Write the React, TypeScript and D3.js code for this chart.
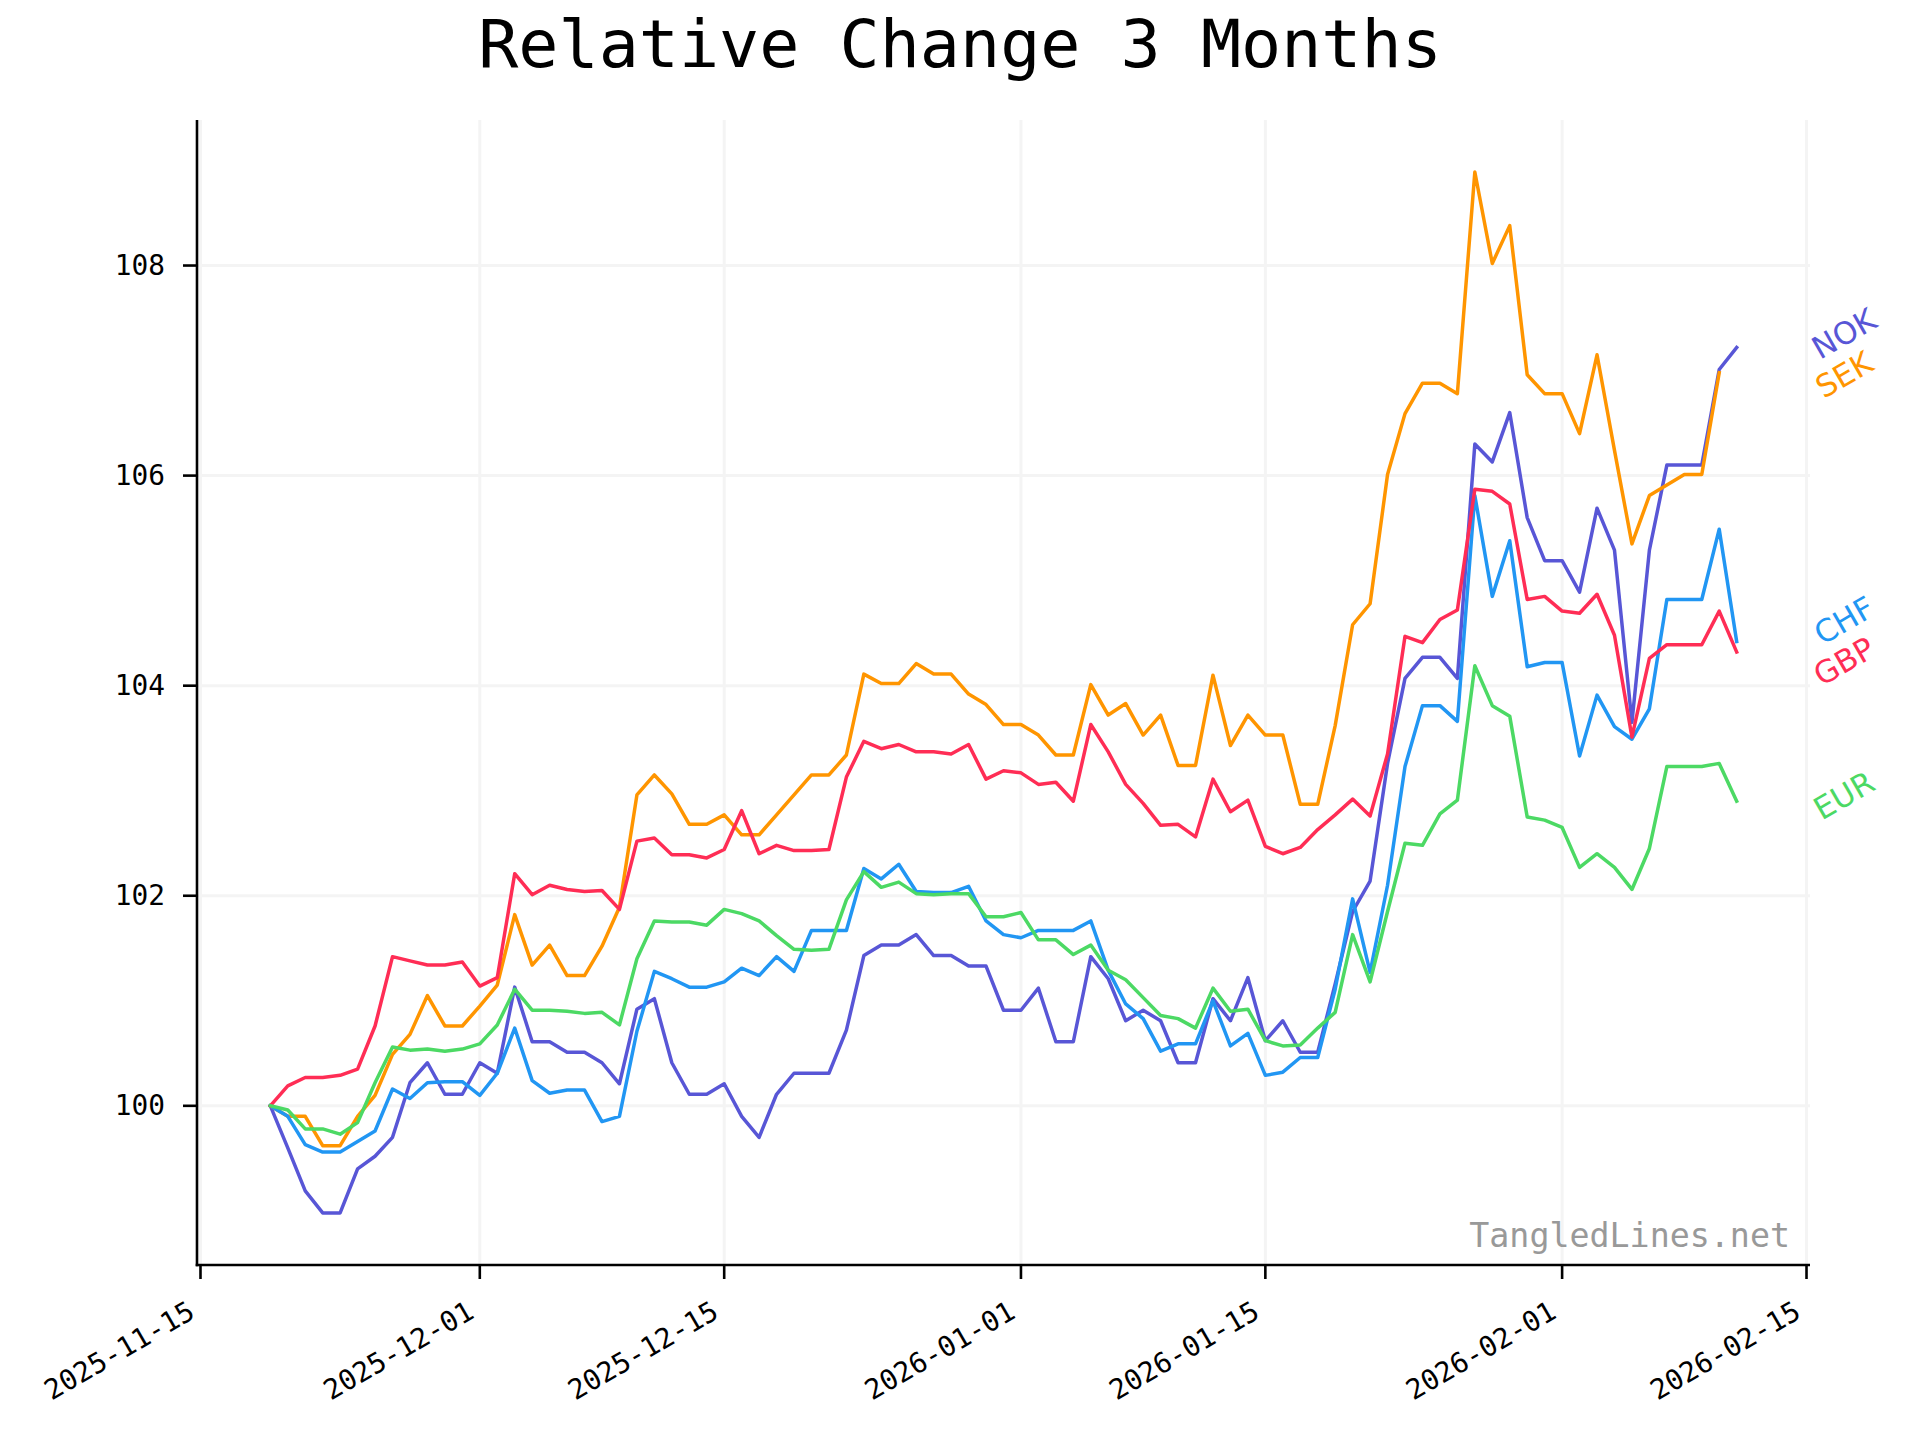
import * as d3 from "d3";
import React from "react";

// daily closes relative to 2025-11-19 (=100)
const startDay = "2025-11-19";

const nok = [
  100.0, 99.6, 99.19, 98.98, 98.98, 99.4, 99.52, 99.7, 100.22, 100.41, 100.11, 100.11, 100.41, 100.31,
  101.13, 100.61, 100.61, 100.51, 100.51, 100.41, 100.21, 100.92, 101.02, 100.41, 100.11, 100.11, 100.21, 99.9,
  99.7, 100.11, 100.31, 100.31, 100.31, 100.72, 101.43, 101.53, 101.53, 101.63, 101.43, 101.43, 101.33, 101.33,
  100.91, 100.91, 101.12, 100.61, 100.61, 101.42, 101.21, 100.81, 100.91, 100.81, 100.41, 100.41, 101.02, 100.81,
  101.22, 100.62, 100.81, 100.51, 100.51, 101.16, 101.85, 102.14, 103.26, 104.07, 104.27, 104.27, 104.07, 106.3,
  106.13, 106.6, 105.6, 105.19, 105.19, 104.89, 105.69, 105.29, 103.65, 105.29, 106.1, 106.1, 106.1, 107.01, 107.22,
];

const sek = [
  100.0, 99.9, 99.9, 99.62, 99.62, 99.9, 100.1, 100.49, 100.68, 101.05, 100.76, 100.76, 100.95, 101.15,
  101.82, 101.34, 101.53, 101.24, 101.24, 101.52, 101.89, 102.96, 103.15, 102.97, 102.68, 102.68, 102.77, 102.58,
  102.58, 102.77, 102.96, 103.15, 103.15, 103.34, 104.11, 104.02, 104.02, 104.21, 104.11, 104.11, 103.92, 103.82,
  103.63, 103.63, 103.53, 103.34, 103.34, 104.01, 103.72, 103.83, 103.53, 103.72, 103.24, 103.24, 104.1, 103.43,
  103.72, 103.53, 103.53, 102.87, 102.87, 103.62, 104.58, 104.78, 106.01, 106.59, 106.88, 106.88, 106.78, 108.89,
  108.02, 108.38, 106.96, 106.78, 106.78, 106.4, 107.15, 106.24, 105.35, 105.81, 105.91, 106.01, 106.01, 106.98,
];

const chf = [
  100.0, 99.9, 99.63, 99.56, 99.56, 99.66, 99.76, 100.16, 100.07, 100.22, 100.23, 100.23, 100.1, 100.31,
  100.74, 100.24, 100.12, 100.15, 100.15, 99.85, 99.9, 100.71, 101.28, 101.21, 101.13, 101.13, 101.18, 101.31,
  101.24, 101.42, 101.28, 101.67, 101.67, 101.67, 102.26, 102.16, 102.3, 102.04, 102.03, 102.03, 102.09, 101.76,
  101.63, 101.6, 101.67, 101.67, 101.67, 101.76, 101.29, 100.97, 100.83, 100.52, 100.59, 100.59, 101.0, 100.57,
  100.69, 100.29, 100.32, 100.46, 100.46, 101.11, 101.97, 101.27, 102.1, 103.23, 103.81, 103.81, 103.66, 105.81,
  104.85, 105.38, 104.18, 104.22, 104.22, 103.33, 103.91, 103.61, 103.49, 103.78, 104.82, 104.82, 104.82, 105.49, 104.42,
];

const gbp = [
  100.0, 100.19, 100.27, 100.27, 100.29, 100.35, 100.76, 101.42, 101.38, 101.34, 101.34, 101.37, 101.14, 101.22,
  102.21, 102.01, 102.1, 102.06, 102.04, 102.05, 101.87, 102.52, 102.55, 102.39, 102.39, 102.36, 102.44, 102.81,
  102.4, 102.48, 102.43, 102.43, 102.44, 103.13, 103.47, 103.4, 103.44, 103.37, 103.37, 103.35, 103.44, 103.11,
  103.19, 103.17, 103.06, 103.08, 102.9, 103.63, 103.37, 103.06, 102.88, 102.67, 102.68, 102.56, 103.11, 102.8,
  102.91, 102.47, 102.4, 102.46, 102.63, 102.77, 102.92, 102.76, 103.35, 104.47, 104.41, 104.63, 104.72, 105.87,
  105.85, 105.73, 104.82, 104.85, 104.71, 104.69, 104.87, 104.48, 103.51, 104.26, 104.39, 104.39, 104.39, 104.71, 104.32,
];

const eur = [
  100.0, 99.96, 99.78, 99.78, 99.73, 99.84, 100.22, 100.56, 100.53, 100.54, 100.52, 100.54, 100.59, 100.77,
  101.11, 100.91, 100.91, 100.9, 100.88, 100.89, 100.77, 101.4, 101.76, 101.75, 101.75, 101.72, 101.87, 101.83,
  101.76, 101.62, 101.49, 101.48, 101.49, 101.96, 102.23, 102.08, 102.13, 102.02, 102.01, 102.02, 102.02, 101.8,
  101.8, 101.84, 101.58, 101.58, 101.44, 101.53, 101.29, 101.2, 101.03, 100.86, 100.83, 100.74, 101.12, 100.9,
  100.92, 100.62, 100.57, 100.58, 100.74, 100.89, 101.63, 101.18, 101.85, 102.5, 102.48, 102.78, 102.91, 104.19,
  103.81, 103.71, 102.75, 102.72, 102.65, 102.27, 102.4, 102.27, 102.06, 102.45, 103.23, 103.23, 103.23, 103.26, 102.9,
];

const currencies = ["NOK", "SEK", "CHF", "GBP", "EUR"];
const colors = ["#5856d6", "#ff9500", "#2196f3", "#ff2d55", "#4cd964"];
const seriesValues = [nok, sek, chf, gbp, eur];

const xTickLabels = ["2025-11-15", "2025-12-01", "2025-12-15", "2026-01-01", "2026-01-15", "2026-02-01", "2026-02-15"];
const yTicks = [100, 102, 104, 106, 108];

const W = 1920, H = 1440;
const margin = { left: 197, right: 1810, top: 120, bottom: 1265 };
const mono = "'DejaVu Sans Mono', monospace";

const parse = d3.utcParse("%Y-%m-%d");

export default function App() {
  const t0 = parse(startDay) as Date;
  const series = seriesValues.map((vals, k) => ({
    name: currencies[k],
    color: colors[k],
    points: vals.map((v, i) => ({ date: d3.utcDay.offset(t0, i), value: v })),
  }));

  const allPts = series.flatMap(s => s.points);
  const [d0, d1] = d3.extent(allPts, p => +p.date) as [number, number];
  const [v0, v1] = d3.extent(allPts, p => p.value) as [number, number];
  const dpad = (d1 - d0) * 0.05, vpad = (v1 - v0) * 0.05;

  const x = d3.scaleUtc().domain([new Date(d0 - dpad), new Date(d1 + dpad)]).range([margin.left, margin.right]);
  const y = d3.scaleLinear().domain([v0 - vpad, v1 + vpad]).range([margin.bottom, margin.top]);

  const line = d3.line<{ date: Date; value: number }>()
    .x(p => x(p.date))
    .y(p => y(p.value));

  // end labels, pushed apart so they don't overlap
  const labels = series.map(s => ({ name: s.name, color: s.color, cy: y(s.points[s.points.length - 1].value) - 6 }))
    .sort((a, b) => a.cy - b.cy);
  const gap = 41;
  for (let iter = 0; iter < 50; iter++) {
    for (let i = 1; i < labels.length; i++) {
      const d = labels[i].cy - labels[i - 1].cy;
      if (d < gap) {
        const m = (labels[i].cy + labels[i - 1].cy) / 2;
        labels[i - 1].cy = m - gap / 2;
        labels[i].cy = m + gap / 2;
      }
    }
  }

  return (
    <div style={{ position: "absolute", left: 0, top: 0 }}>
      <svg width={W} height={H} style={{ display: "block", background: "#fff" }}>
        <rect width={W} height={H} fill="#fff" />
        <text x={960} y={67} textAnchor="middle" fontFamily={mono} fontSize={66.7} fill="#000">
          Relative Change 3 Months
        </text>

        {/* grid */}
        <g stroke="#f4f4f4" strokeWidth={3}>
          {xTickLabels.map(t => (
            <line key={t} x1={x(parse(t) as Date)} x2={x(parse(t) as Date)} y1={margin.top} y2={margin.bottom} />
          ))}
          {yTicks.map(v => (
            <line key={v} x1={margin.left} x2={margin.right} y1={y(v)} y2={y(v)} />
          ))}
        </g>

        {/* lines */}
        {series.map(s => (
          <path key={s.name} d={line(s.points) || ""} fill="none" stroke={s.color} strokeWidth={3.5}
            strokeLinejoin="round" strokeLinecap="square" />
        ))}

        {/* axes */}
        <g stroke="#000" strokeWidth={2.6}>
          <line x1={margin.left} x2={margin.left} y1={margin.top} y2={margin.bottom + 1.3} />
          <line x1={margin.left - 1.3} x2={margin.right} y1={margin.bottom} y2={margin.bottom} />
          {yTicks.map(v => (
            <line key={v} x1={margin.left - 14} x2={margin.left} y1={y(v)} y2={y(v)} />
          ))}
          {xTickLabels.map(t => (
            <line key={t} x1={x(parse(t) as Date)} x2={x(parse(t) as Date)} y1={margin.bottom} y2={margin.bottom + 14} />
          ))}
        </g>
        <g fontFamily={mono} fontSize={27.8} fill="#000">
          {yTicks.map(v => (
            <text key={v} x={margin.left - 32} y={y(v)} textAnchor="end" dominantBaseline="central">{v}</text>
          ))}
          {xTickLabels.map(t => (
            <text key={t} textAnchor="end"
              transform={`translate(${x(parse(t) as Date) - 4},${margin.bottom + 52}) rotate(-30)`}>{t}</text>
          ))}
        </g>

        {/* end labels */}
        {labels.map(l => (
          <text key={l.name} fill={l.color} fontFamily="'DejaVu Sans', sans-serif" fontSize={31}
            textAnchor="middle" dominantBaseline="central"
            transform={`translate(${margin.right + 34},${l.cy}) rotate(-30)`}>{l.name}</text>
        ))}

        <text x={1790} y={1247} textAnchor="end" fontFamily={mono} fontSize={33.3} fill="#999">
          TangledLines.net
        </text>
      </svg>
    </div>
  );
}
